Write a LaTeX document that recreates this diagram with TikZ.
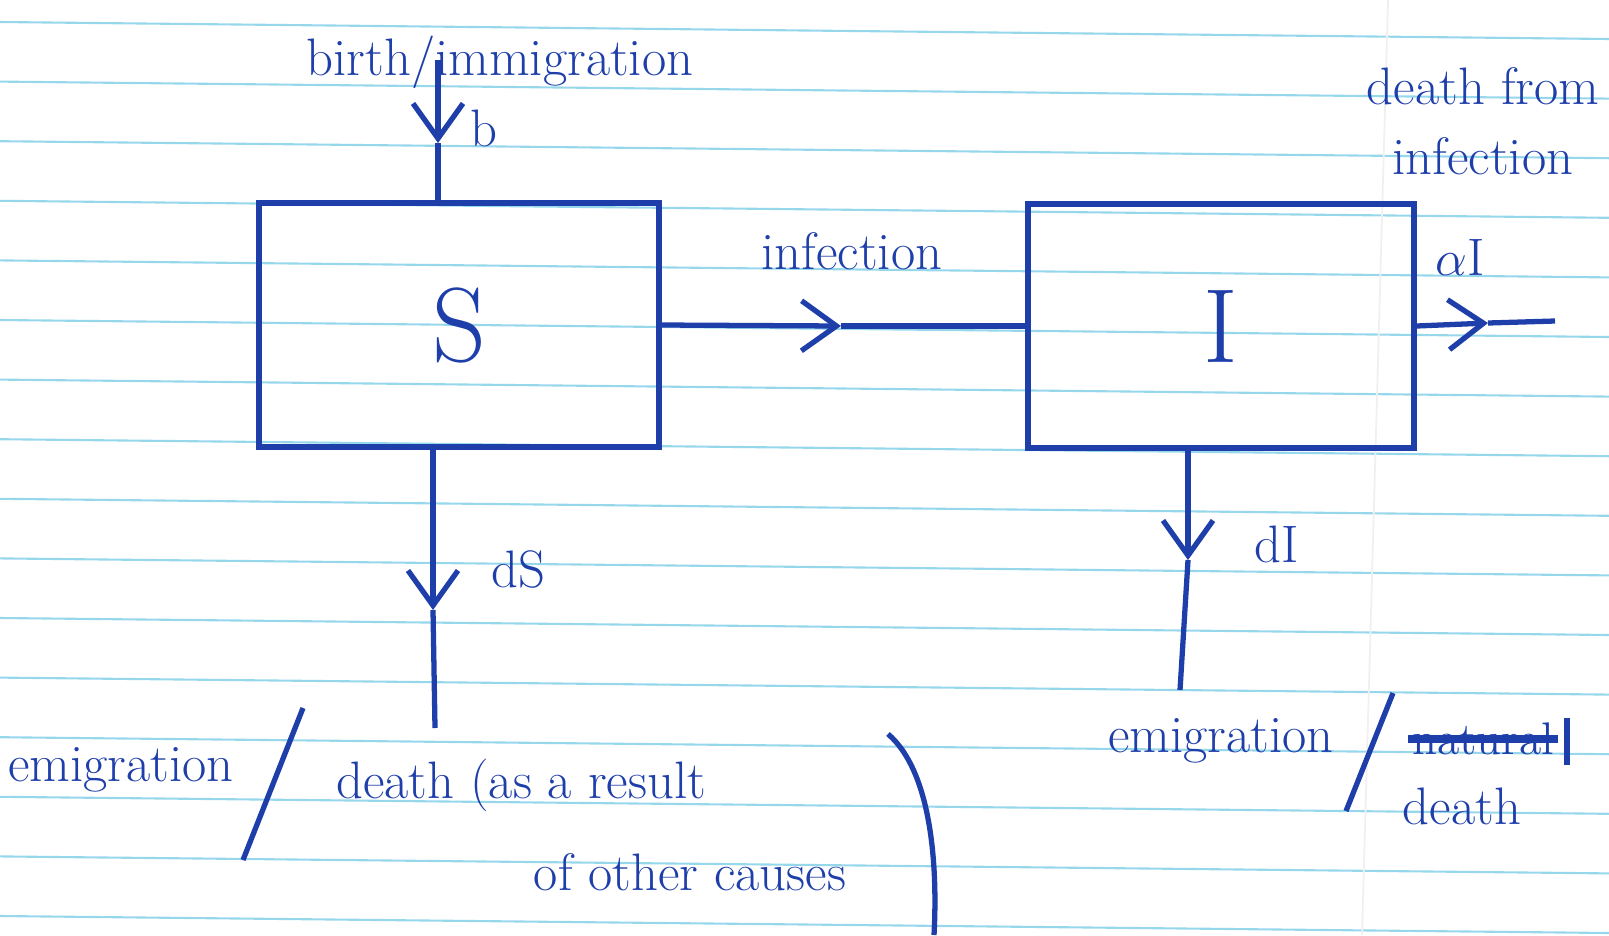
\documentclass[tikz,border=0pt]{standalone}
\usetikzlibrary{positioning,calc,arrows.meta}
\definecolor{ink}{RGB}{30,62,170}
\definecolor{ruling}{RGB}{150,215,235}
\tikzset{font=\fontsize{15}{20}\selectfont}
\tikzset{
	box/.style={draw=ink, text=ink, line width=1.5pt, minimum width=4cm, minimum height=2.44cm, font=\fontsize{30}{30}\selectfont},
	flow/.style={ink, line width=1.5pt},
	tip/.style={ink, line width=1.5pt, -{Straight Barb[length=3.5mm,width=5mm]}},
	lbl/.style={text=ink, inner sep=1pt, align=center},
}

\begin{document}
\begin{tikzpicture}
	\useasboundingbox (0,0) rectangle (16.09,-9.35);
	% ruled paper
	\foreach \k in {0,...,15}
		\draw[ruling, line width=0.6pt] (0,{-0.22-0.596*\k}) -- (16.09,{-0.39-0.596*\k});
	\draw[gray!12, line width=0.5pt] (13.88,0) -- (13.62,-9.35);

	\begin{scope}
		\node[box] (S) at (4.59,-3.25) {S};
		\node[box, minimum width=3.86cm] (I) at (12.21,-3.26) {I};

		\coordinate (bsrc) at (4.38,-0.6);
		\coordinate (bmid) at (4.38,-1.43);
		\coordinate (dSmid) at (4.33,-6.1);
		\coordinate (dSend) at (4.35,-7.28);
		\coordinate (inf) at (8.41,-3.26);
		\coordinate (dImid) at (11.88,-5.6);
		\coordinate (dIend) at (11.8,-6.9);
		\coordinate (amid) at (14.88,-3.23);
		\coordinate (aend) at (15.55,-3.21);

		\draw[tip]  (bsrc) -- (bmid);
		\draw[flow] (bmid) -- (bmid |- S.north);
		\draw[tip]  (S.east) -- (inf);
		\draw[flow] (inf) -- (I.west);
		\draw[tip]  (dSmid |- S.south) -- (dSmid);
		\draw[flow] (dSmid) -- (dSend);
		\draw[tip]  (dImid |- I.south) -- (dImid);
		\draw[flow] (dImid) -- (dIend);
		\draw[tip]  (I.east) -- (amid);
		\draw[flow] (amid) -- (aend);

		\node[lbl] (birth) at (5.0,-0.62) {birth/immigration};
		\node[lbl] (b) at (4.84,-1.28) {b};
		\node[lbl] (infection) at (8.52,-2.51) {infection};
		\node[lbl] (dS) at (5.18,-5.69) {dS};
		\node[lbl] (dI) at (12.77,-5.44) {dI};
		\node[lbl] (alphaI) at (14.6,-2.57) {$\alpha$I};
		\node[lbl] (dfi) at (14.83,-1.21) {death from\\infection};

		\node[lbl] (emigS) at (1.21,-7.70) {emigration};
		\draw[flow] (3.03,-7.08) -- (2.43,-8.60);
		\node[lbl] (deathS) at (5.21,-7.85) {death (as a result};
		\node[lbl] (causes) at (6.90,-8.72) {of other causes};
		\draw[flow] (8.88,-7.34) .. controls (9.3,-7.7) and (9.38,-8.6) .. (9.34,-9.35);

		\node[lbl] (emigI) at (12.21,-7.41) {emigration};
		\draw[flow] (13.93,-6.93) -- (13.46,-8.11);
		\node[lbl, font=\fontsize{13}{16}\selectfont] (natural) at (14.83,-7.39) {natural};
		\draw[ink, line width=2.5pt] (natural.west) -- (natural.east);
		\draw[flow] (15.67,-7.18) -- (15.67,-7.65);
		\node[lbl] (deathI) at (14.62,-8.06) {death};
	\end{scope}
\end{tikzpicture}
\end{document}
